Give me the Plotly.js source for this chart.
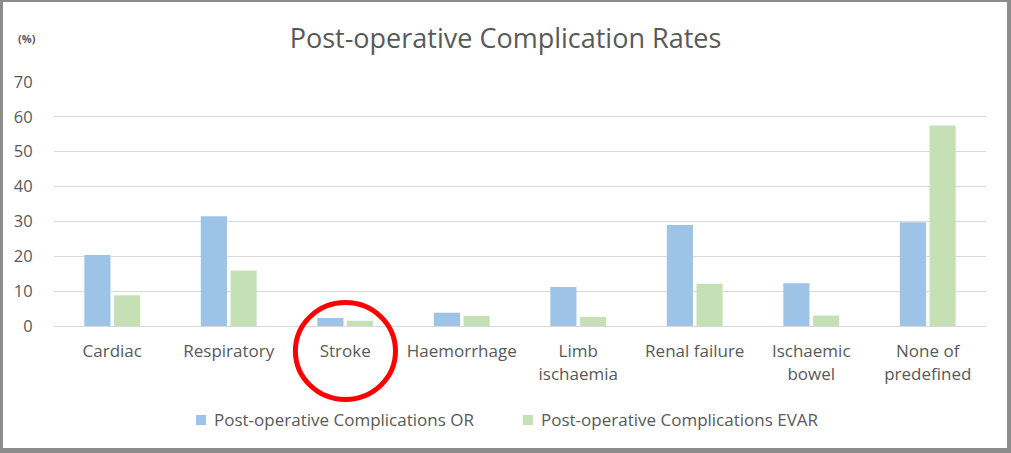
<!DOCTYPE html>
<html>
<head>
<meta charset="utf-8">
<script src="https://cdn.plot.ly/plotly-3.0.1.min.js"></script>
<style>
  html, body { margin: 0; padding: 0; background: #fff; }
  #wrap { position: relative; width: 1011px; height: 453px; }
  #chart { width: 1011px; height: 453px; }
  #frame { position: absolute; left: 0; top: 0; width: 1011px; height: 453px; box-sizing: border-box;
           border-left: 3px solid #8c8c8c; border-top: 2px solid #8c8c8c; border-right: 4px solid #8c8c8c; border-bottom: 5px solid #8c8c8c; pointer-events: none; }
</style>
</head>
<body>
<div id="wrap"><div id="chart"></div><div id="frame"></div></div>
<script>
const categories = ["Cardiac", "Respiratory", "Stroke", "Haemorrhage", "Limb<br>ischaemia", "Renal failure", "Ischaemic<br>bowel", "None of<br>predefined"];
const orValues = [20.4, 31.5, 2.3, 3.8, 11.2, 29.0, 12.3, 29.8];
const evarValues = [8.8, 15.9, 1.5, 2.9, 2.6, 12.1, 3.0, 57.5];
const seriesNames = ["Post-operative Complications OR", "Post-operative Complications EVAR"];
const seriesColors = ["#9dc3e6", "#c5e0b4"];
const yTicks = [0, 10, 20, 30, 40, 50, 60, 70];

const textColor = "#595959";
const font = "Open Sans, Noto Sans, sans-serif";

const traces = [
  { type: "bar", name: seriesNames[0], x: categories, y: orValues, marker: { color: seriesColors[0] } },
  { type: "bar", name: seriesNames[1], x: categories, y: evarValues, marker: { color: seriesColors[1] } }
];

// custom legend (swatch + label) placed like the original
const legendPos = [
  { sx0: 0.1524, sx1: 0.1631, tx: 0.1695 },
  { sx0: 0.5032, sx1: 0.5139, tx: 0.5204 }
];
const legendShapes = legendPos.map((p, i) => ({
  type: "rect", xref: "paper", yref: "paper", x0: p.sx0, x1: p.sx1, y0: -0.4057, y1: -0.3648,
  fillcolor: seriesColors[i], line: { width: 0 }
}));
const legendTexts = legendPos.map((p, i) => ({
  text: seriesNames[i], xref: "paper", yref: "paper", x: p.tx, y: -0.385, xanchor: "left", yanchor: "middle",
  showarrow: false, font: { size: 17, color: textColor }
}));

const layout = {
  width: 1011, height: 453,
  margin: { l: 54, r: 25, t: 82, b: 127 },
  paper_bgcolor: "#fff", plot_bgcolor: "#fff",
  font: { family: font, color: textColor, size: 17 },
  title: { text: "Post-operative Complication Rates", x: 0.5, xanchor: "center", y: 0.916, yanchor: "middle", font: { size: 27, color: textColor, family: font } },
  barmode: "group", bargap: 0.49, bargroupgap: 0.12,
  showlegend: false,
  xaxis: { type: "category", showgrid: false, zeroline: false, showline: true, linecolor: "#d9d9d9", linewidth: 1,
           ticks: "outside", ticklen: 10, tickcolor: "rgba(0,0,0,0)", tickfont: { size: 17, color: textColor } },
  yaxis: { range: [0, 70], tickvals: yTicks, showgrid: true, gridcolor: "#d9d9d9", gridwidth: 1, zeroline: false, showline: false,
           ticks: "outside", ticklen: 17, tickcolor: "rgba(0,0,0,0)", tickfont: { size: 16.5, color: textColor } },
  annotations: [
    { text: "<b>(%)</b>", xref: "paper", yref: "paper", x: -0.029, y: 1.18, xanchor: "center", yanchor: "middle", showarrow: false, font: { size: 11, color: textColor } }
  ].concat(legendTexts),
  shapes: [
    { type: "circle", xref: "paper", yref: "paper", x0: 0.259, x1: 0.3664, y0: -0.301, y1: 0.0963, line: { color: "#ff0000", width: 5 } }
  ].concat(legendShapes)
};

Plotly.newPlot("chart", traces, layout, { displayModeBar: false, staticPlot: true });
</script>
</body>
</html>
